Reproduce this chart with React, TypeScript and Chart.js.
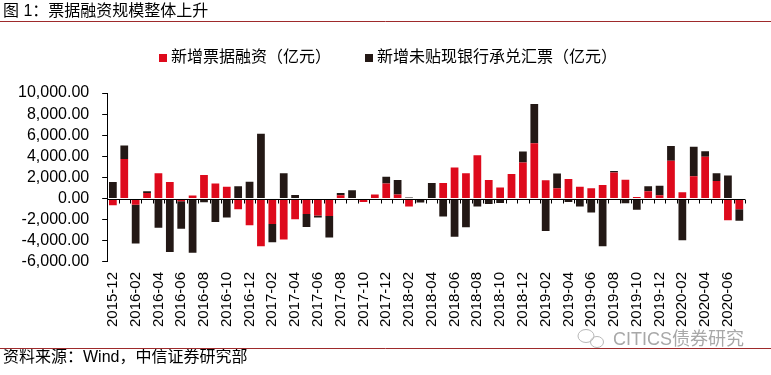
import { useEffect, useRef } from "react";
import { Chart, registerables } from "chart.js";

Chart.register(...registerables);

const months = [
  "2015-12", "2016-01", "2016-02", "2016-03", "2016-04", "2016-05", "2016-06", "2016-07",
  "2016-08", "2016-09", "2016-10", "2016-11", "2016-12", "2017-01", "2017-02", "2017-03",
  "2017-04", "2017-05", "2017-06", "2017-07", "2017-08", "2017-09", "2017-10", "2017-11",
  "2017-12", "2018-01", "2018-02", "2018-03", "2018-04", "2018-05", "2018-06", "2018-07",
  "2018-08", "2018-09", "2018-10", "2018-11", "2018-12", "2019-01", "2019-02", "2019-03",
  "2019-04", "2019-05", "2019-06", "2019-07", "2019-08", "2019-09", "2019-10", "2019-11",
  "2019-12", "2020-01", "2020-02", "2020-03", "2020-04", "2020-05", "2020-06", "2020-07",
];

// 新增票据融资（亿元）
const billFinancing = [
  -640, 3740, -580, 540, 2400, 1570, -250, 290, 2240, 1440, 1120, -1000, -2530, -4510, -2400, -3870,
  -1950, -1470, -1600, -1660, 320, 0, -320, 380, 1440, 380, -740, -50, 0, 1470, 2940, 2400,
  4100, 1760, 1060, 2340, 3420, 5250, 1730, 990, 1860, 1120, 990, 1280, 2460, 1790, 150, 700,
  320, 3580, 610, 2110, 3970, 1660, -2050, -1020,
];

// 新增未贴现银行承兑汇票（亿元）
const undiscountedAcceptance = [
  1570, 1280, -3680, 160, -2750, -5060, -2600, -5120, -350, -2210, -1790, 1180, 1600, 6140, -1730, 2400,
  350, -1220, -190, -2020, 220, 780, 0, 0, 640, 1380, 100, -330, 1470, -1700, -3620, -2720,
  -740, -510, -420, -100, 1030, 3710, -3070, 1380, -320, -740, -1310, -4510, 160, -450, -1050, 480,
  900, 1410, -3940, 2790, 510, 740, 2180, -1090,
];

const seriesNames = ["新增票据融资（亿元）", "新增未贴现银行承兑汇票（亿元）"];
const yMin = -6000;
const yMax = 10000;
const yStep = 2000;

const titleText = "图 1：票据融资规模整体上升";
const sourceText = "资料来源：Wind，中信证券研究部";
const watermarkText = "CITICS债券研究";

const FONT = "'Liberation Sans', Arial, 'Noto Sans CJK SC', sans-serif";
const RED = "#DE0A1C";
const BLACK = "#231815";
const RULE = "#9E2A2B";

const fmt = new Intl.NumberFormat("en-US", { minimumFractionDigits: 2, maximumFractionDigits: 2 });

export default function App() {
  const ref = useRef<HTMLCanvasElement>(null);

  useEffect(() => {
    document.body.style.margin = "0";
    const canvas = ref.current;
    if (!canvas) return;

    const decor = {
      id: "decor",
      beforeDraw(chart: any) {
        const ctx = chart.ctx;
        ctx.save();
        ctx.fillStyle = "#fff";
        ctx.fillRect(0, 0, chart.width, chart.height);
        ctx.restore();
      },
      afterDatasetsDraw(chart: any) {
        const ctx = chart.ctx;
        const area = chart.chartArea;
        const y0 = Math.round(chart.scales.y.getPixelForValue(0)) + 0.5;
        const n = months.length;
        const w = (area.right - area.left) / n;
        ctx.save();
        ctx.strokeStyle = "#000";
        ctx.lineWidth = 1;
        ctx.beginPath();
        ctx.moveTo(area.left, y0);
        ctx.lineTo(area.right, y0);
        for (let k = 1; k <= n; k++) {
          const x = Math.round(area.left + k * w) + 0.5;
          ctx.moveTo(x, y0);
          ctx.lineTo(x, y0 + 4);
        }
        ctx.stroke();
        ctx.restore();
      },
      afterDraw(chart: any) {
        const ctx = chart.ctx;
        ctx.save();
        ctx.fillStyle = "#000";
        ctx.textBaseline = "middle";
        ctx.textAlign = "left";
        ctx.font = `16px ${FONT}`;
        ctx.fillText(titleText, 3, 11.5);
        ctx.fillText(sourceText, 3, 358);

        // legend
        let lx = 159;
        const ly = 58;
        chart.data.datasets.forEach((ds: any) => {
          ctx.fillStyle = ds.backgroundColor;
          ctx.fillRect(lx, ly - 4, 8, 8);
          ctx.fillStyle = "#000";
          ctx.fillText(ds.label, lx + 12, ly);
          lx += 12 + ctx.measureText(ds.label).width + 34;
        });

        ctx.strokeStyle = RULE;
        ctx.lineWidth = 1;
        ctx.beginPath();
        ctx.moveTo(0, 21.5);
        ctx.lineTo(chart.width, 21.5);
        ctx.moveTo(0, 348.5);
        ctx.lineTo(chart.width, 348.5);
        ctx.stroke();
        // watermark
        ctx.fillStyle = "#a8a8a8";
        ctx.font = `18px ${FONT}`;
        ctx.fillText(watermarkText, 613, 340);
        ctx.strokeStyle = "#b8b8b8";
        ctx.lineWidth = 1;
        ctx.beginPath();
        ctx.ellipse(586, 336, 8, 6.5, 0, 0, Math.PI * 2);
        ctx.stroke();
        ctx.beginPath();
        ctx.ellipse(597, 342, 6.5, 5.5, 0, 0, Math.PI * 2);
        ctx.stroke();
        ctx.restore();
      },
    };

    const chart = new Chart(canvas, {
      type: "bar",
      data: {
        labels: months,
        datasets: [
          {
            label: seriesNames[0],
            data: billFinancing,
            backgroundColor: RED,
            borderWidth: 0,
            categoryPercentage: 1,
            barPercentage: 0.68,
          },
          {
            label: seriesNames[1],
            data: undiscountedAcceptance,
            backgroundColor: BLACK,
            borderWidth: 0,
            categoryPercentage: 1,
            barPercentage: 0.68,
          },
        ],
      },
      options: {
        responsive: false,
        animation: false,
        devicePixelRatio: 1,
        layout: { padding: { top: 93, left: 5, right: 26, bottom: 38 } },
        plugins: {
          tooltip: { enabled: false },
          legend: { display: false },
        },
        scales: {
          x: {
            stacked: true,
            offset: true,
            grid: { display: false, drawTicks: false },
            border: { display: false },
            ticks: {
              autoSkip: false,
              maxRotation: 90,
              minRotation: 90,
              padding: 10,
              color: "#000",
              font: { size: 15, family: FONT },
              callback: (_v: any, i: number) => (i % 2 === 0 ? months[i] : ""),
            },
          },
          y: {
            stacked: true,
            min: yMin,
            max: yMax,
            grid: { drawOnChartArea: false, drawTicks: true, tickLength: 5, color: "#000" },
            border: { display: true, color: "#000" },
            ticks: {
              autoSkip: false,
              stepSize: yStep,
              padding: 13,
              color: "#000",
              font: { size: 16, family: FONT },
              callback: (v: any) => fmt.format(Number(v)),
            },
          },
        },
      },
      plugins: [decor],
    });

    return () => chart.destroy();
  }, []);

  return (
    <div style={{ width: 771, height: 375, position: "relative" }}>
      <canvas ref={ref} width={771} height={375} style={{ width: 771, height: 375, display: "block" }} />
    </div>
  );
}
